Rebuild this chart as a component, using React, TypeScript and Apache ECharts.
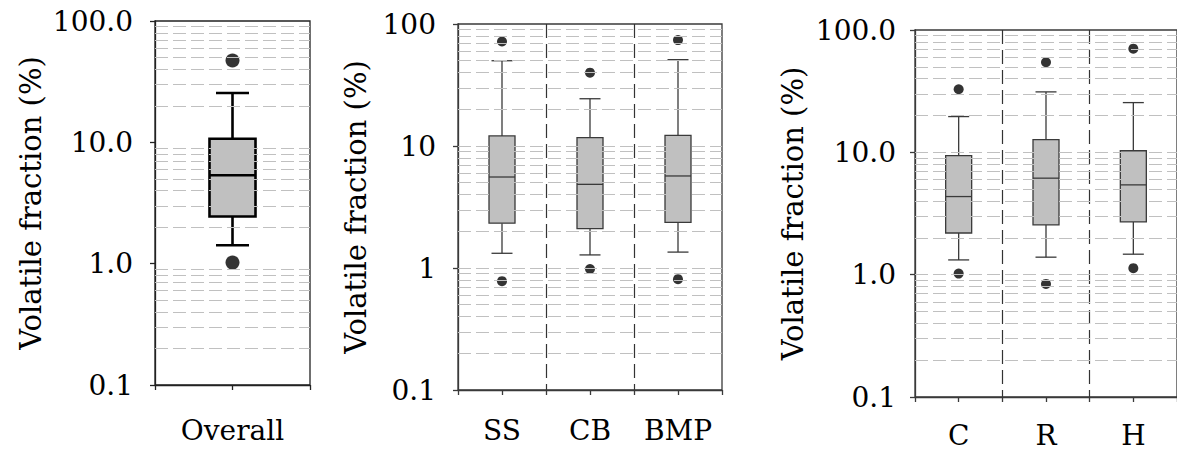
import React, { useEffect, useRef } from "react";
import * as echarts from "echarts";

// ---- data ----
const overallCats = ["Overall"];
// [lower whisker, Q1, median, Q3, upper whisker]
const overallBox = [[1.42, 2.45, 5.35, 10.7, 25.5]];
const overallOutliers = [[0, 47.2], [0, 1.02]];

const typeCats = ["SS", "CB", "BMP"];
const typeBox = [
  [1.32, 2.33, 5.57, 12.1, 50.0],
  [1.28, 2.1, 4.85, 11.7, 24.4],
  [1.35, 2.37, 5.68, 12.2, 51.0],
];
const typeOutliers = [[0, 71.9], [0, 0.78], [1, 39.9], [1, 0.98], [2, 73.8], [2, 0.81]];

const landCats = ["C", "R", "H"];
const landBox = [
  [1.32, 2.19, 4.35, 9.41, 19.6],
  [1.39, 2.55, 6.15, 12.7, 31.2],
  [1.47, 2.7, 5.42, 10.3, 25.5],
];
const landOutliers = [[0, 32.8], [0, 1.02], [1, 54.5], [1, 0.84], [2, 70.4], [2, 1.13]];

const minorSteps = [2, 3, 4, 5, 6, 7, 8, 9];
const decadeStarts = [0.1, 1, 10];
const minorGridValues = decadeStarts.flatMap((d) => minorSteps.map((s) => Number((s * d).toPrecision(3))));
const majorGridValues = [1, 10];

const FONT = "DejaVu Serif";
const LABEL_SIZE = 28;
const NAME_SIZE = 29;

type Panel = {
  left: number; top: number; width: number; height: number;
  cats: string[]; box: number[][]; outliers: number[][];
  boxWidth: number; capWidth: number; stroke: string; strokeWidth: number;
  dotSize: number; decimals: boolean; majorGrid: boolean; nameGap: number;
  labelMargin: number; catMargin: number; axisColor: string; axisWidth: number;
};

const panels: Panel[] = [
  { left: 155, top: 21, width: 155, height: 364, cats: overallCats, box: overallBox, outliers: overallOutliers,
    boxWidth: 46, capWidth: 33, stroke: "#000", strokeWidth: 2.6, dotSize: 14, decimals: true, majorGrid: false,
    nameGap: 110, labelMargin: 22, catMargin: 31, axisColor: "#222", axisWidth: 1.3 },
  { left: 458, top: 24, width: 264, height: 366, cats: typeCats, box: typeBox, outliers: typeOutliers,
    boxWidth: 26, capWidth: 21, stroke: "#3a3a3a", strokeWidth: 1.3, dotSize: 10, decimals: false, majorGrid: true,
    nameGap: 88, labelMargin: 22, catMargin: 26, axisColor: "#3a3a3a", axisWidth: 1.3 },
  { left: 915, top: 30, width: 269, height: 367, cats: landCats, box: landBox, outliers: landOutliers,
    boxWidth: 26, capWidth: 21, stroke: "#3a3a3a", strokeWidth: 1.3, dotSize: 10, decimals: true, majorGrid: true,
    nameGap: 108, labelMargin: 19, catMargin: 24, axisColor: "#3a3a3a", axisWidth: 1.3 },
];

function buildOption() {
  const grid: any[] = [];
  const xAxis: any[] = [];
  const yAxis: any[] = [];
  const series: any[] = [];

  panels.forEach((p, i) => {
    grid.push({
      show: true, left: p.left, top: p.top, width: p.width, height: p.height,
      borderColor: p.axisColor, borderWidth: p.axisWidth, backgroundColor: "transparent", containLabel: false,
    });
    xAxis.push({
      type: "category", gridIndex: i, data: p.cats, boundaryGap: true, position: "bottom",
      axisLine: { show: false }, axisTick: { show: false, interval: 0 },
      axisLabel: {
        fontSize: LABEL_SIZE, color: "#000", fontFamily: FONT, margin: p.catMargin,
        interval: 0, hideOverlap: false,
      },
      splitLine: {
        show: p.cats.length > 1, interval: 0, showMinLine: false, showMaxLine: false,
        lineStyle: { type: [14, 6], color: "#333", width: 1.2 },
      },
    });
    xAxis.push({
      type: "value", gridIndex: i, min: 0, max: p.cats.length * 2, interval: 1, position: "bottom",
      axisLine: { show: true, lineStyle: { color: p.axisColor, width: p.axisWidth } },
      axisTick: { show: true, length: 5, lineStyle: { color: p.axisColor, width: p.axisWidth } },
      axisLabel: { show: false }, splitLine: { show: false },
    });
    yAxis.push({
      type: "log", logBase: 10, min: 0.1, max: 100, gridIndex: i,
      axisLine: { show: true, lineStyle: { color: p.axisColor, width: p.axisWidth } },
      axisTick: { show: true, length: 5, lineStyle: { color: p.axisColor, width: p.axisWidth } },
      axisLabel: {
        fontSize: LABEL_SIZE, color: "#000", fontFamily: FONT, margin: p.labelMargin,
        formatter: (v: number) => {
          const n = Number(v.toPrecision(6));
          return p.decimals ? n.toFixed(1) : String(n);
        },
      },
      splitLine: { show: false },
      name: "Volatile fraction (%)", nameLocation: "middle", nameRotate: 90, nameGap: p.nameGap,
      nameTextStyle: { fontSize: NAME_SIZE, color: "#000", fontFamily: FONT },
    });

    const gridVals = p.majorGrid ? [...minorGridValues, ...majorGridValues] : minorGridValues;
    series.push({
      type: "line", xAxisIndex: i * 2, yAxisIndex: i, data: [], silent: true, z: 1,
      markLine: {
        silent: true, symbol: ["none", "none"], label: { show: false }, animation: false,
        lineStyle: { color: "#c0c0c0", width: 1.2, type: [13, 5] },
        data: gridVals.map((v) => ({ yAxis: v })),
      },
    });
    series.push({
      type: "custom", xAxisIndex: i * 2, yAxisIndex: i, z: 3,
      data: p.box.map((b, k) => [k, ...b]),
      encode: { x: 0, y: [1, 2, 3, 4, 5] },
      renderItem: (params: any, api: any) => {
        const k = api.value(0);
        const pts = [1, 2, 3, 4, 5].map((j) => api.coord([k, api.value(j)]));
        const cx = pts[0][0];
        const half = p.boxWidth / 2;
        const ch = p.capWidth / 2;
        const ls = { stroke: p.stroke, lineWidth: p.strokeWidth, fill: null };
        return {
          type: "group",
          children: [
            { type: "line", shape: { x1: cx, y1: pts[4][1], x2: cx, y2: pts[3][1] }, style: ls },
            { type: "line", shape: { x1: cx, y1: pts[1][1], x2: cx, y2: pts[0][1] }, style: ls },
            { type: "line", shape: { x1: cx - ch, y1: pts[4][1], x2: cx + ch, y2: pts[4][1] }, style: ls },
            { type: "line", shape: { x1: cx - ch, y1: pts[0][1], x2: cx + ch, y2: pts[0][1] }, style: ls },
            {
              type: "rect",
              shape: { x: cx - half, y: pts[3][1], width: p.boxWidth, height: pts[1][1] - pts[3][1] },
              style: { fill: "#c0c0c0", stroke: p.stroke, lineWidth: p.strokeWidth },
            },
            { type: "line", shape: { x1: cx - half, y1: pts[2][1], x2: cx + half, y2: pts[2][1] }, style: ls },
          ],
        };
      },
    });
    series.push({
      type: "scatter", xAxisIndex: i * 2, yAxisIndex: i, z: 4,
      data: p.outliers, symbol: "circle", symbolSize: p.dotSize,
      itemStyle: { color: "#000" },
    });
  });

  return {
    animation: false, backgroundColor: "#fff",
    textStyle: { fontFamily: FONT },
    grid, xAxis, yAxis, series, tooltip: { show: false },
  };
}

export default function App() {
  const ref = useRef<HTMLDivElement>(null);
  useEffect(() => {
    document.body.style.margin = "0";
    if (!ref.current) return;
    const chart = echarts.init(ref.current, undefined, { renderer: "svg" });
    chart.setOption(buildOption() as any);
    return () => chart.dispose();
  }, []);
  return <div ref={ref} style={{ width: 1177, height: 455, overflow: "hidden" }} />;
}
